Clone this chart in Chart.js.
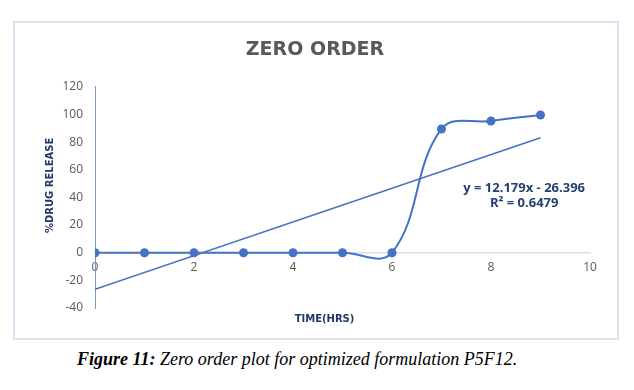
<!DOCTYPE html>
<html>
<head>
<meta charset="utf-8">
<script src="https://cdn.jsdelivr.net/npm/chart.js@4.4.1/dist/chart.umd.min.js"></script>
<style>
  body { margin: 0; background: #fff; width: 634px; height: 390px; position: relative; overflow: hidden; }
  #frame { position: absolute; left: 13px; top: 21px; width: 606px; height: 319px; box-sizing: border-box; border: 2px solid #dbe3f1; }
  #chart { position: absolute; left: 0; top: 0; }
  #caption { position: absolute; left: 77px; top: 349px; font-family: 'Liberation Serif', 'Times New Roman', serif; font-size: 18px; line-height: 20px; font-style: italic; color: #000; white-space: nowrap; }
</style>
</head>
<body>
<div id="frame"></div>
<canvas id="chart" width="634" height="345"></canvas>
<div id="caption"><b>Figure 11:</b> Zero order plot for optimized formulation P5F12.</div>
<script>
Chart.defaults.font.family = "'Open Sans', sans-serif";
Chart.defaults.color = '#595959';

const timeHrs = [0, 1, 2, 3, 4, 5, 6, 7, 8, 9];
const drugRelease = [0, 0, 0, 0, 0, 0, 0, 89.5, 95.3, 99.6];
const trendX = [0, 9];
const trendY = [-26.4, 83.2];
const trendLabel = ['y = 12.179x - 26.396', 'R\u00b2 = 0.6479'];

const blue = '#4472C4';
const titleBlue = '#1f3864';

// équation de la tendance
const trendTextPlugin = {
    id: 'trendText',
    afterDatasetsDraw(chart, args, opts) {
        const { ctx, scales } = chart;
        const x = scales.x.getPixelForValue(opts.x);
        ctx.save();
        ctx.font = "bold 13px 'Open Sans', sans-serif";
        ctx.fillStyle = '#243f72';
        ctx.textAlign = 'center';
        ctx.textBaseline = 'middle';
        trendLabel.forEach((t, i) => {
            ctx.fillText(t, x, scales.y.getPixelForValue(opts.y) + i * 15);
        });
        ctx.restore();
    }
};

// décale les titres d'axes comme dans Excel
const shiftTitles = {
    id: 'shiftTitles',
    afterLayout(chart) {
        const { x2, y2 } = chart.scales;
        x2.left -= 36;
        y2.top -= 24;
    }
};

const ctx = document.getElementById('chart').getContext('2d');
new Chart(ctx, {
    type: 'line',
    data: {
        datasets: [{
            label: 'Drug release',
            data: timeHrs.map((t, i) => ({ x: t, y: drugRelease[i] })),
            borderColor: blue,
            backgroundColor: blue,
            borderWidth: 2,
            pointRadius: 4.5,
            pointBorderWidth: 0,
            tension: 0.4
        }, {
            label: 'Linear trend',
            data: trendX.map((t, i) => ({ x: t, y: trendY[i] })),
            borderColor: blue,
            borderWidth: 1.5,
            pointRadius: 0,
            tension: 0
        }]
    },
    options: {
        responsive: false,
        animation: false,
        layout: { padding: { top: 27, left: 40, right: 44, bottom: 16 } },
        plugins: {
            legend: { display: false },
            tooltip: { enabled: false },
            title: {
                display: true,
                text: 'ZERO ORDER',
                color: '#595959',
                font: { family: "'DejaVu Sans', sans-serif", size: 19, weight: 'bold' },
                padding: { top: 12, bottom: 25 }
            },
            trendText: { x: 8.67, y: 46.5 }
        },
        scales: {
            x: {
                type: 'linear',
                position: { y: 0 },
                min: 0,
                max: 10,
                grid: { display: false, drawTicks: false },
                border: { color: '#d9dde6', width: 1.5 },
                ticks: { stepSize: 2, padding: 8, font: { size: 12 }, color: '#595959' }
            },
            x2: {
                type: 'linear',
                axis: 'x',
                position: 'bottom',
                min: 0,
                max: 10,
                grid: { display: false, drawTicks: false },
                border: { display: false },
                ticks: { display: false },
                title: {
                    display: true,
                    text: 'TIME(HRS)',
                    color: titleBlue,
                    font: { family: "'DejaVu Sans', sans-serif", size: 10, weight: 'bold' },
                    padding: { top: 5, bottom: 4 }
                }
            },
            y: {
                min: -40,
                max: 120,
                grid: { display: false, drawTicks: false },
                border: { color: '#7a96cc', width: 1 },
                ticks: { stepSize: 20, padding: 12, font: { size: 12 }, color: '#595959' },
                afterFit(scale) { scale.width = 35; }
            },
            y2: {
                type: 'linear',
                axis: 'y',
                position: 'left',
                weight: 1,
                min: -40,
                max: 120,
                grid: { display: false, drawTicks: false },
                border: { display: false },
                ticks: { display: false },
                title: {
                    display: true,
                    text: '%DRUG RELEASE',
                    color: titleBlue,
                    font: { family: "'DejaVu Sans', sans-serif", size: 10, weight: 'bold' },
                    padding: { top: 4, bottom: 4 }
                },
                afterFit(scale) { scale.width = 20; }
            }
        }
    },
    plugins: [trendTextPlugin, shiftTitles]
});
</script>
</body>
</html>
